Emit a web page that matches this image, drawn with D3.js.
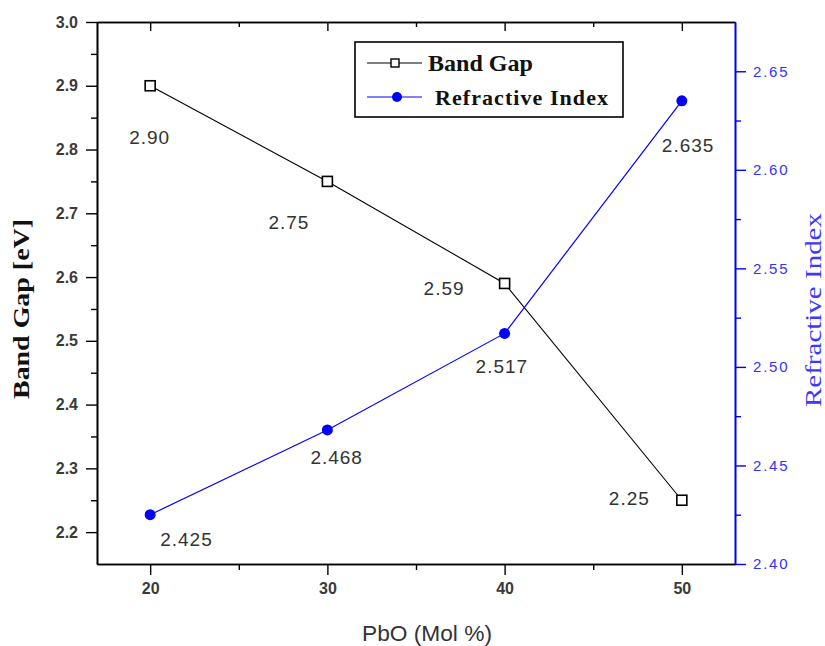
<!DOCTYPE html>
<html>
<head>
<meta charset="utf-8">
<script src="https://cdn.jsdelivr.net/npm/d3@7"></script>
<style>
  body { margin: 0; background: #fff; }
  svg { display: block; }
</style>
</head>
<body>
<svg width="825" height="646"></svg>
<script>
// values
var pbo = [20, 30, 40, 50];
var bandGap = [2.90, 2.75, 2.59, 2.25];
var refIndex = [2.425, 2.468, 2.517, 2.635];
var bandGapLabels = ["2.90", "2.75", "2.59", "2.25"];
var refIndexLabels = ["2.425", "2.468", "2.517", "2.635"];
var xTicks = [20, 30, 40, 50];
var leftTicks = [2.2, 2.3, 2.4, 2.5, 2.6, 2.7, 2.8, 2.9, 3.0];
var rightTicks = [2.40, 2.45, 2.50, 2.55, 2.60, 2.65];

// where the value labels sit relative to their point (px)
var bgOff = [[-21, 58], [-59, 48], [-81, 12], [-73, 5]];
var riOff = [[10, 31], [-17, 34], [-29, 40], [-20, 51]];

var svg = d3.select("svg");
var L = 97, R = 735, T = 22, B = 564;

var x = d3.scaleLinear().domain([17, 53]).range([L, R]);
var yL = d3.scaleLinear().domain([2.15, 3.0]).range([B, T]);
var yR = d3.scaleLinear().domain([2.40, 2.675]).range([B, T]);

var tickFont = "'Liberation Sans', Arial, sans-serif";
var serif = "'Liberation Serif', 'Times New Roman', serif";

// minor ticks
var xMinor = d3.range(25, 50, 10);
var lMinor = d3.range(2.25, 3.0, 0.1);
var rMinor = d3.range(2.425, 2.675, 0.05);

function styleAxis(g, color) {
  g.selectAll("path").attr("stroke", color).attr("stroke-width", 1.6);
  g.selectAll("line").attr("stroke", color).attr("stroke-width", 1.4);
}

// bottom axis
var gx = svg.append("g").attr("transform", "translate(0," + B + ")")
  .call(d3.axisBottom(x).tickValues(xTicks).tickSize(11).tickSizeOuter(0).tickPadding(8));
styleAxis(gx, "#000");
gx.selectAll("text").attr("font-family", tickFont).attr("font-weight", "bold")
  .attr("font-size", 16).attr("fill", "#3a3a3a");
var gxm = svg.append("g").attr("transform", "translate(0," + B + ")")
  .call(d3.axisBottom(x).tickValues(xMinor).tickSize(6).tickSizeOuter(0).tickFormat(""));
styleAxis(gxm, "#000");

// top axis (ticks inside, no labels)
var gt = svg.append("g").attr("transform", "translate(0," + T + ")")
  .call(d3.axisBottom(x).tickValues(xTicks).tickSize(9).tickSizeOuter(0).tickFormat(""));
styleAxis(gt, "#000");
var gtm = svg.append("g").attr("transform", "translate(0," + T + ")")
  .call(d3.axisBottom(x).tickValues(xMinor).tickSize(5).tickSizeOuter(0).tickFormat(""));
styleAxis(gtm, "#000");

// left axis
var gl = svg.append("g").attr("transform", "translate(" + L + ",0)")
  .call(d3.axisLeft(yL).tickValues(leftTicks).tickSize(11).tickSizeOuter(0)
    .tickPadding(8).tickFormat(d3.format(".1f")));
styleAxis(gl, "#000");
gl.selectAll("text").attr("font-family", tickFont).attr("font-weight", "bold")
  .attr("font-size", 16).attr("fill", "#3a3a3a");
var glm = svg.append("g").attr("transform", "translate(" + L + ",0)")
  .call(d3.axisLeft(yL).tickValues(lMinor).tickSize(6).tickSizeOuter(0).tickFormat(""));
styleAxis(glm, "#000");

// right axis (blue)
var blue = "#0000ff";
var gr = svg.append("g").attr("transform", "translate(" + R + ",0)")
  .call(d3.axisRight(yR).tickValues(rightTicks).tickSize(11).tickSizeOuter(0)
    .tickPadding(7).tickFormat(d3.format(".2f")));
styleAxis(gr, blue);
gr.selectAll("text").attr("font-family", "Arial, 'Liberation Sans', sans-serif")
  .attr("font-size", 15).attr("letter-spacing", 1.8).attr("fill", "#3333ff");
var grm = svg.append("g").attr("transform", "translate(" + R + ",0)")
  .call(d3.axisRight(yR).tickValues(rMinor).tickSize(6).tickSizeOuter(0).tickFormat(""));
styleAxis(grm, blue);

// axis titles
svg.append("text")
  .attr("transform", "translate(29,309) rotate(-90)")
  .attr("text-anchor", "middle")
  .attr("font-family", serif)
  .attr("font-weight", "bold").attr("font-size", 24).attr("fill", "#111")
  .attr("textLength", 180).attr("lengthAdjust", "spacingAndGlyphs")
  .text("Band Gap [eV]");

svg.append("text")
  .attr("transform", "translate(821,310) rotate(-90)")
  .attr("text-anchor", "middle")
  .attr("font-family", serif)
  .attr("font-size", 24).attr("fill", "#3a3aff")
  .attr("textLength", 194).attr("lengthAdjust", "spacingAndGlyphs")
  .text("Refractive Index");

svg.append("text")
  .attr("x", 427).attr("y", 641)
  .attr("text-anchor", "middle")
  .attr("font-family", "Arial, 'Liberation Sans', sans-serif")
  .attr("font-size", 22).attr("fill", "#333")
  .attr("textLength", 130).attr("lengthAdjust", "spacingAndGlyphs")
  .text("PbO (Mol %)");

// series
var bgPts = pbo.map(function(d, i) { return [d, bandGap[i]]; });
var riPts = pbo.map(function(d, i) { return [d, refIndex[i]]; });

svg.append("path").datum(bgPts)
  .attr("fill", "none").attr("stroke", "#000").attr("stroke-width", 1.1)
  .attr("d", d3.line().x(function(d) { return x(d[0]); }).y(function(d) { return yL(d[1]); }));

svg.append("path").datum(riPts)
  .attr("fill", "none").attr("stroke", blue).attr("stroke-width", 1.2)
  .attr("d", d3.line().x(function(d) { return x(d[0]); }).y(function(d) { return yR(d[1]); }));

svg.selectAll("rect.bg").data(bgPts).enter().append("rect")
  .attr("class", "bg")
  .attr("x", function(d) { return x(d[0]) - 5; })
  .attr("y", function(d) { return yL(d[1]) - 5; })
  .attr("width", 10).attr("height", 10)
  .attr("fill", "#fff").attr("stroke", "#000").attr("stroke-width", 1.6);

svg.selectAll("circle.ri").data(riPts).enter().append("circle")
  .attr("class", "ri")
  .attr("cx", function(d) { return x(d[0]); })
  .attr("cy", function(d) { return yR(d[1]); })
  .attr("r", 5.5).attr("fill", blue);

// value labels
var labFont = "Arial, 'Liberation Sans', sans-serif";
svg.selectAll("text.bgl").data(bgPts).enter().append("text")
  .attr("class", "bgl")
  .attr("x", function(d, i) { return x(d[0]) + bgOff[i][0]; })
  .attr("y", function(d, i) { return yL(d[1]) + bgOff[i][1]; })
  .attr("font-family", labFont).attr("font-size", 19).attr("letter-spacing", 1)
  .attr("fill", "#333")
  .text(function(d, i) { return bandGapLabels[i]; });

svg.selectAll("text.ril").data(riPts).enter().append("text")
  .attr("class", "ril")
  .attr("x", function(d, i) { return x(d[0]) + riOff[i][0]; })
  .attr("y", function(d, i) { return yR(d[1]) + riOff[i][1]; })
  .attr("font-family", labFont).attr("font-size", 19).attr("letter-spacing", 1)
  .attr("fill", "#333")
  .text(function(d, i) { return refIndexLabels[i]; });

// legend
var lg = svg.append("g");
lg.append("rect").attr("x", 355).attr("y", 42).attr("width", 268).attr("height", 75)
  .attr("fill", "#fff").attr("stroke", "#000").attr("stroke-width", 1.6);
lg.append("line").attr("x1", 367).attr("x2", 422).attr("y1", 63).attr("y2", 63)
  .attr("stroke", "#000").attr("stroke-width", 1.2);
lg.append("rect").attr("x", 391).attr("y", 59).attr("width", 8).attr("height", 8)
  .attr("fill", "#fff").attr("stroke", "#000").attr("stroke-width", 1.4);
lg.append("text").attr("x", 428).attr("y", 71)
  .attr("font-family", serif)
  .attr("font-weight", "bold").attr("font-size", 23).attr("fill", "#111")
  .attr("textLength", 105).attr("lengthAdjust", "spacingAndGlyphs")
  .text("Band Gap");
lg.append("line").attr("x1", 367).attr("x2", 422).attr("y1", 97).attr("y2", 97)
  .attr("stroke", blue).attr("stroke-width", 1.2);
lg.append("circle").attr("cx", 397).attr("cy", 97).attr("r", 5).attr("fill", blue);
lg.append("text").attr("x", 435).attr("y", 105)
  .attr("font-family", serif)
  .attr("font-weight", "bold").attr("font-size", 22)
  .attr("fill", "#111")
  .attr("textLength", 173).attr("lengthAdjust", "spacing")
  .text("Refractive Index");
</script>
</body>
</html>
